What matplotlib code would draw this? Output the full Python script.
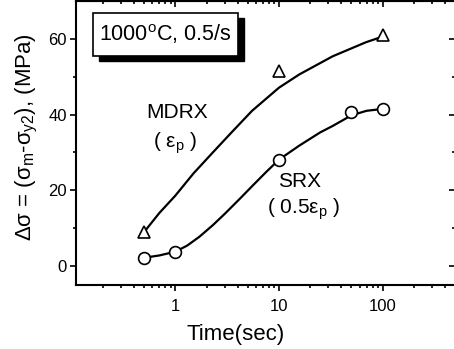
import matplotlib
matplotlib.use("Agg")
import matplotlib.pyplot as plt
from matplotlib.patches import Rectangle
from matplotlib.ticker import FixedLocator, NullFormatter

plt.rcParams['font.family'] = ['Liberation Sans', 'DejaVu Sans']
plt.rcParams['mathtext.fontset'] = 'custom'
plt.rcParams['mathtext.rm'] = 'Liberation Sans'
plt.rcParams['mathtext.it'] = 'Liberation Sans'
plt.rcParams['mathtext.bf'] = 'Liberation Sans:bold'

# measured points
mdrx_t = [0.5, 10, 100]
mdrx_ds = [9.0, 51.5, 60.9]
srx_t = [0.5, 1, 10, 50, 100]
srx_ds = [2.2, 3.8, 28.1, 40.7, 41.4]

# fitted curves
mdrx_fit_t = [0.5, 0.7, 1.0, 1.5, 2.3, 3.6, 5.5, 10, 15.7, 33, 69, 100]
mdrx_fit_ds = [9.0, 14.0, 18.6, 24.5, 30.0, 35.7, 41.0, 47.1, 50.6, 55.4, 59.1, 60.6]
srx_fit_t = [0.5, 0.7, 1.0, 1.3, 1.7, 2.3, 3.0, 4.2, 5.6, 7.5, 10, 15.7, 25, 33, 50, 70, 100]
srx_fit_ds = [2.2, 2.8, 3.8, 5.4, 7.7, 10.8, 13.8, 17.8, 21.3, 24.8, 28.1, 31.8, 35.3, 37.0, 39.8, 41.0, 41.5]

x_major = [1, 10, 100]
x_minor = [m * d for d in (0.1, 1, 10, 100) for m in range(2, 10) if m * d < 500]
y_major = [0, 20, 40, 60]
y_minor = [10, 30, 50]

fig = plt.figure(figsize=(4.54, 3.49), dpi=100)
ax = fig.add_axes([76 / 454, 64 / 349, 379 / 454, 284 / 349])

ax.plot(mdrx_fit_t, mdrx_fit_ds, color='black', lw=1.6, solid_joinstyle='round', zorder=2)
ax.plot(srx_fit_t, srx_fit_ds, color='black', lw=1.6, solid_joinstyle='round', zorder=2)
ax.plot(mdrx_t, mdrx_ds, linestyle='none', marker='^', ms=9, mfc='white', mec='black', mew=1.2, zorder=3)
ax.plot(srx_t, srx_ds, linestyle='none', marker='o', ms=8.5, mfc='white', mec='black', mew=1.2, zorder=3)

ax.set_xscale('log')
ax.set_xlim(0.11, 500)
ax.set_ylim(-5, 70)
ax.xaxis.set_major_locator(FixedLocator(x_major))
ax.xaxis.set_minor_locator(FixedLocator(x_minor))
ax.xaxis.set_minor_formatter(NullFormatter())
ax.set_xticklabels([str(v) for v in x_major])
ax.set_yticks(y_major)
ax.set_yticks(y_minor, minor=True)

for s in ax.spines.values():
    s.set_linewidth(1.5)

ax.tick_params(which='both', direction='out', width=1.2, labelsize=12)
ax.tick_params(axis='x', pad=5.5)
ax.tick_params(axis='y', pad=2)
ax.tick_params(which='major', length=4.5)
ax.tick_params(which='minor', length=2.5)

# top and right axes with inward ticks
top = ax.secondary_xaxis('top', functions=(lambda x: x, lambda x: x))
top.xaxis.set_major_locator(FixedLocator(x_major))
top.xaxis.set_minor_locator(FixedLocator(x_minor))
top.xaxis.set_minor_formatter(NullFormatter())
top.tick_params(which='both', direction='in', width=1.2, labeltop=False)
top.tick_params(which='major', length=4.5)
top.tick_params(which='minor', length=2.5)
top.spines['top'].set_linewidth(1.5)
right = ax.secondary_yaxis('right', functions=(lambda y: y, lambda y: y))
right.set_yticks(y_major)
right.set_yticks(y_minor, minor=True)
right.tick_params(which='both', direction='in', width=1.2, labelright=False)
right.tick_params(which='major', length=4.5)
right.tick_params(which='minor', length=2.5)
right.spines['right'].set_linewidth(1.5)

ax.set_xlabel('Time(sec)', fontsize=16, labelpad=7, x=0.422)
ax.set_ylabel(r'$\Delta\sigma$ = ($\sigma_{m}$-$\sigma_{y2}$), (MPa)', fontsize=16, labelpad=6, y=0.52)

ax.text(0.266, 0.606, 'MDRX', transform=ax.transAxes, fontsize=15, ha='center', va='center')
ax.text(0.262, 0.5, r'( $\epsilon_p$ )', transform=ax.transAxes, fontsize=15, ha='center', va='center')
ax.text(0.59, 0.363, 'SRX', transform=ax.transAxes, fontsize=15, ha='center', va='center')
ax.text(0.6, 0.265, r'( 0.5$\epsilon_p$ )', transform=ax.transAxes, fontsize=15, ha='center', va='center')

# label box with shadow
bx, by, bw, bh = 0.044, 0.806, 0.384, 0.152
ax.add_patch(Rectangle((bx + 0.016, by - 0.018), bw, bh, transform=ax.transAxes,
                       facecolor='black', edgecolor='black', zorder=4))
ax.add_patch(Rectangle((bx, by), bw, bh, transform=ax.transAxes,
                       facecolor='white', edgecolor='black', lw=1.2, zorder=5))
ax.text(bx + bw / 2, by + bh / 2, r'1000$^{\mathrm{o}}$C, 0.5/s', transform=ax.transAxes,
        fontsize=15.5, ha='center', va='center', zorder=6)

fig.savefig('out.png', dpi=100)
